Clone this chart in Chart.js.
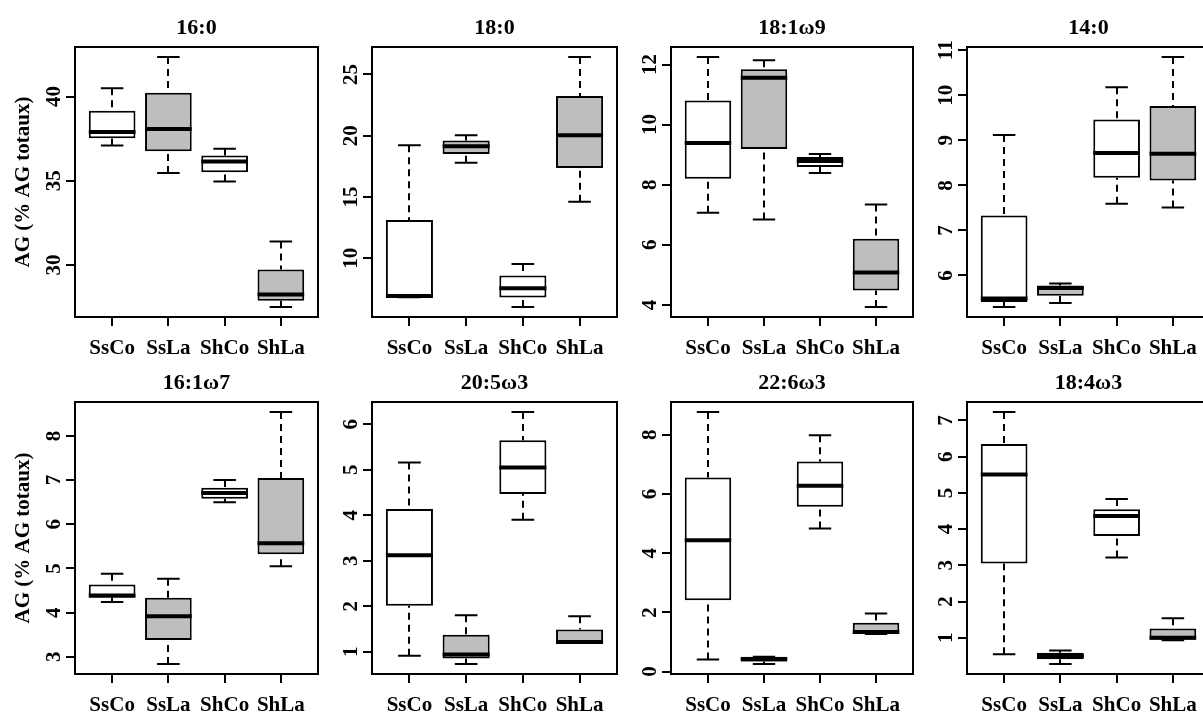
<!DOCTYPE html>
<html>
<head>
<meta charset="utf-8">
<script src="https://cdn.jsdelivr.net/npm/chart.js@4.4.1/dist/chart.umd.min.js"></script>
<style>
  html, body { margin: 0; padding: 0; background: #ffffff; }
  body { position: relative; width: 1203px; height: 716px; overflow: hidden; }
  canvas { position: absolute; }
</style>
</head>
<body>
<script>
// Groups (x categories) and their box fills
const groups = ['SsCo', 'SsLa', 'ShCo', 'ShLa'];
const groupFill = ['#ffffff', '#bebebe', '#ffffff', '#bebebe'];

// Five-number summaries per group, as [min, Q1, median, Q3, max] (% of total FA)
const fa16_0 = [
  [37.10, 37.53, 37.89, 39.16, 40.49],
  [35.46, 36.75, 38.08, 40.23, 42.35],
  [34.95, 35.50, 36.14, 36.50, 36.90],
  [27.50, 27.87, 28.24, 29.73, 31.39]
];
const fa18_0 = [
  [6.82, 6.85, 6.92, 13.12, 19.22],
  [17.80, 18.50, 19.14, 19.60, 20.03],
  [6.02, 6.80, 7.55, 8.60, 9.52],
  [14.60, 17.37, 20.03, 23.23, 26.42]
];
const fa18_1w9 = [
  [7.07, 8.20, 9.39, 10.80, 12.25],
  [6.84, 9.19, 11.56, 11.84, 12.14],
  [8.39, 8.59, 8.79, 8.92, 9.02],
  [3.93, 4.48, 5.08, 6.20, 7.34]
];
const fa14_0 = [
  [5.30, 5.41, 5.49, 7.33, 9.12],
  [5.39, 5.55, 5.72, 5.78, 5.82],
  [7.59, 8.17, 8.72, 9.46, 10.18],
  [7.51, 8.11, 8.70, 9.76, 10.85]
];
const fa16_1w7 = [
  [4.24, 4.34, 4.39, 4.64, 4.88],
  [2.84, 3.38, 3.92, 4.34, 4.77],
  [6.50, 6.58, 6.71, 6.83, 7.00],
  [5.05, 5.32, 5.57, 7.05, 8.54]
];
const fa20_5w3 = [
  [0.91, 2.01, 3.12, 4.14, 5.16],
  [0.73, 0.85, 0.94, 1.37, 1.80],
  [3.90, 4.47, 5.05, 5.65, 6.27],
  [1.19, 1.19, 1.21, 1.49, 1.78]
];
const fa22_6w3 = [
  [0.41, 2.41, 4.44, 6.56, 8.77],
  [0.26, 0.34, 0.42, 0.50, 0.50],
  [4.84, 5.57, 6.28, 7.10, 7.99],
  [1.27, 1.27, 1.34, 1.65, 1.96]
];
const fa18_4w3 = [
  [0.55, 3.05, 5.51, 6.35, 7.23],
  [0.28, 0.41, 0.50, 0.59, 0.65],
  [3.22, 3.81, 4.36, 4.55, 4.83],
  [0.93, 0.95, 1.00, 1.26, 1.54]
];

// Panel titles and y tick values
const panelTitles = ['16:0', '18:0', '18:1\u03c99', '14:0', '16:1\u03c97', '20:5\u03c93', '22:6\u03c93', '18:4\u03c93'];
const panelStats = [fa16_0, fa18_0, fa18_1w9, fa14_0, fa16_1w7, fa20_5w3, fa22_6w3, fa18_4w3];
const ticks16_0 = [30, 35, 40];
const ticks18_0 = [10, 15, 20, 25];
const ticks18_1w9 = [4, 6, 8, 10, 12];
const ticks14_0 = [6, 7, 8, 9, 10, 11];
const ticks16_1w7 = [3, 4, 5, 6, 7, 8];
const ticks20_5w3 = [1, 2, 3, 4, 5, 6];
const ticks22_6w3 = [0, 2, 4, 6, 8];
const ticks18_4w3 = [1, 2, 3, 4, 5, 6, 7];
const panelTicks = [ticks16_0, ticks18_0, ticks18_1w9, ticks14_0, ticks16_1w7, ticks20_5w3, ticks22_6w3, ticks18_4w3];
const yAxisTitle = 'AG (% AG totaux)';

// Page layout of the plot regions (px)
const colLeft = [75, 372, 671, 967];
const colRight = [318, 617, 913, 1210];
const rowTop = [47, 402];
const rowBottom = [317, 674];
const LEFT_W = 70, TOP_H = 45, BOTTOM_H = 45, RIGHT_PAD = 5;
const FONT = '"Liberation Serif", "Times New Roman", serif';

// Whiskers, caps, medians, frame and tick labels drawn through the chart scales
const boxWhiskers = {
  id: 'boxWhiskers',
  beforeDatasetsDraw(chart) {
    const { ctx, scales: { x, y } } = chart;
    const stats = chart.data.datasets[0].stats;
    ctx.save();
    ctx.strokeStyle = '#000';
    ctx.lineWidth = 2;
    ctx.lineCap = 'butt';
    stats.forEach((s, i) => {
      const cx = Math.round(x.getPixelForValue(i + 1));
      ctx.setLineDash([7, 5]);
      ctx.beginPath();
      ctx.moveTo(cx, y.getPixelForValue(s[4]));
      ctx.lineTo(cx, y.getPixelForValue(s[3]));
      ctx.moveTo(cx, y.getPixelForValue(s[0]));
      ctx.lineTo(cx, y.getPixelForValue(s[1]));
      ctx.stroke();
      ctx.setLineDash([]);
      const x0 = x.getPixelForValue(i + 1 - 0.2), x1 = x.getPixelForValue(i + 1 + 0.2);
      ctx.beginPath();
      [s[0], s[4]].forEach(v => {
        const py = y.getPixelForValue(v);
        ctx.moveTo(x0, py);
        ctx.lineTo(x1, py);
      });
      ctx.stroke();
    });
    ctx.restore();
  },
  afterDatasetsDraw(chart) {
    const { ctx, scales: { y } } = chart;
    const stats = chart.data.datasets[0].stats;
    const meta = chart.getDatasetMeta(0);
    ctx.save();
    ctx.strokeStyle = '#000';
    ctx.lineWidth = 4;
    ctx.lineCap = 'butt';
    stats.forEach((s, i) => {
      const bar = meta.data[i];
      const py = y.getPixelForValue(s[2]);
      ctx.beginPath();
      ctx.moveTo(bar.x - bar.width / 2, py);
      ctx.lineTo(bar.x + bar.width / 2, py);
      ctx.stroke();
    });
    ctx.restore();
  },
  afterDraw(chart) {
    const { ctx, chartArea: a, scales: { x, y } } = chart;
    ctx.save();
    ctx.strokeStyle = '#000';
    ctx.lineWidth = 2;
    ctx.strokeRect(a.left, a.top, a.right - a.left, a.bottom - a.top);
    ctx.fillStyle = '#000';
    ctx.font = 'bold 21px ' + FONT;
    ctx.textAlign = 'center';
    ctx.textBaseline = 'middle';
    y.ticks.forEach(t => {
      ctx.save();
      ctx.translate(a.left - 20, y.getPixelForValue(t.value));
      ctx.rotate(-Math.PI / 2);
      ctx.fillText(String(t.value), 0, 0);
      ctx.restore();
    });
    x.ticks.forEach(t => {
      ctx.fillText(groups[t.value - 1], x.getPixelForValue(t.value), a.bottom + 32);
    });
    ctx.restore();
  }
};

function makePanel(idx) {
  const col = idx % 4, row = Math.floor(idx / 4);
  const stats = panelStats[idx];
  const tickVals = panelTicks[idx];

  // y range: data range widened by 4% on each side
  let lo = Infinity, hi = -Infinity;
  stats.forEach(s => { lo = Math.min(lo, s[0]); hi = Math.max(hi, s[4]); });
  const pad = (hi - lo) * 0.04;

  const canvas = document.createElement('canvas');
  const w = colRight[col] - colLeft[col] + LEFT_W + RIGHT_PAD;
  const h = rowBottom[row] - rowTop[row] + TOP_H + BOTTOM_H;
  canvas.width = w; canvas.height = h;
  canvas.style.left = (colLeft[col] - LEFT_W) + 'px';
  canvas.style.top = (rowTop[row] - TOP_H) + 'px';
  canvas.style.width = w + 'px'; canvas.style.height = h + 'px';
  document.body.appendChild(canvas);

  const axisGrid = {
    display: true, drawOnChartArea: false, drawTicks: true, tickLength: 9,
    color: '#000', lineWidth: 2, tickColor: '#000', tickWidth: 2, offset: false
  };

  new Chart(canvas, {
    type: 'bar',
    data: {
      datasets: [{
        stats: stats,
        data: stats.map((s, i) => ({ x: i + 1, y: [s[1], s[3]] })),
        backgroundColor: groupFill,
        borderColor: '#000',
        borderWidth: 2,
        borderSkipped: false,
        inflateAmount: 0,
        barPercentage: 0.83,
        categoryPercentage: 1
      }]
    },
    options: {
      responsive: false,
      animation: false,
      devicePixelRatio: 1,
      events: [],
      layout: { padding: { left: 0, right: RIGHT_PAD, top: 0, bottom: 0 } },
      plugins: {
        legend: { display: false },
        tooltip: { enabled: false },
        title: {
          display: true,
          text: panelTitles[idx],
          fullSize: false,
          color: '#000',
          font: { family: FONT, size: 22, weight: 'bold', lineHeight: '26px' },
          padding: { top: 13, bottom: 6 }
        }
      },
      scales: {
        x: {
          type: 'linear',
          min: 0.34, max: 4.66,
          offset: false,
          afterBuildTicks: s => { s.ticks = groups.map((g, i) => ({ value: i + 1 })); },
          ticks: { display: false },
          grid: axisGrid,
          border: { display: false },
          afterFit: s => { s.height = BOTTOM_H; }
        },
        y: {
          type: 'linear',
          beginAtZero: false,
          min: lo - pad, max: hi + pad,
          afterBuildTicks: s => { s.ticks = tickVals.map(v => ({ value: v })); },
          ticks: { display: false },
          grid: axisGrid,
          border: { display: false },
          title: {
            display: col === 0,
            text: yAxisTitle,
            color: '#000',
            font: { family: FONT, size: 21, weight: 'bold', lineHeight: '26px' },
            padding: { top: 6, bottom: 0 }
          },
          afterFit: s => { s.width = LEFT_W; }
        }
      }
    },
    plugins: [boxWhiskers]
  });
}

for (let i = 0; i < 8; i++) makePanel(i);
</script>
</body>
</html>
